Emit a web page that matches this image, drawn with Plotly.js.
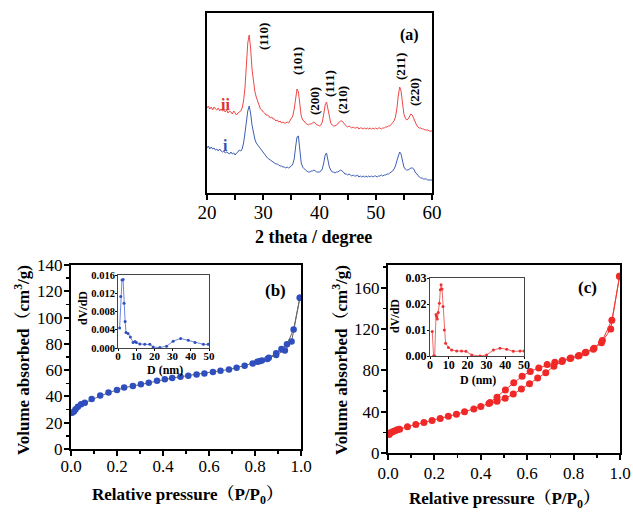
<!DOCTYPE html>
<html><head><meta charset="utf-8">
<script src="https://cdn.plot.ly/plotly-3.0.1.min.js"></script>
<style>body{margin:0;padding:0;background:#fff}#chart{width:633px;height:512px}</style>
</head><body><div id="chart"></div>
<script>
// ---------- (a) XRD ----------
const twoTheta = [
20,20.25,20.5,20.75,21,21.25,21.5,21.75,22,22.25,22.5,22.75,23,23.25,23.5,23.75,
24,24.25,24.5,24.75,25,25.25,25.5,25.75,26,26.25,26.5,26.75,27,27.25,27.5,27.75,
28,28.25,28.5,28.75,29,29.25,29.5,29.75,30,30.25,30.5,30.75,31,31.25,31.5,31.75,
32,32.25,32.5,32.75,33,33.25,33.5,33.75,34,34.25,34.5,34.75,35,35.25,35.5,35.75,
36,36.25,36.5,36.75,37,37.25,37.5,37.75,38,38.25,38.5,38.75,39,39.25,39.5,39.75,
40,40.25,40.5,40.75,41,41.25,41.5,41.75,42,42.25,42.5,42.75,43,43.25,43.5,43.75,
44,44.25,44.5,44.75,45,45.25,45.5,45.75,46,46.25,46.5,46.75,47,47.25,47.5,47.75,
48,48.25,48.5,48.75,49,49.25,49.5,49.75,50,50.25,50.5,50.75,51,51.25,51.5,51.75,
52,52.25,52.5,52.75,53,53.25,53.5,53.75,54,54.25,54.5,54.75,55,55.25,55.5,55.75,
56,56.25,56.5,56.75,57,57.25,57.5,57.75,58,58.25,58.5,58.75,59,59.25,59.5,59.75,60];
const intensityII = [
85,87,84,86,83,86,84,83,85,82,84,82,83,81,83,80,
82,81,79,82,80,78,80,81,82,85,92,105,128,150,158,145,
124,110,102,96,91,88,84,83,81,80,78,78,77,75,76,74,
74,72,73,71,72,70,71,70,70,71,70,72,74,77,84,96,
104,101,86,77,73,72,70,69,68,69,69,70,71,70,68,68,
67,68,71,79,88,91,84,74,70,68,67,67,68,69,71,72,
72,70,68,67,66,67,66,65,66,65,65,66,64,65,65,64,
65,64,65,64,65,64,65,64,65,64,65,65,64,65,65,66,
66,67,67,69,70,72,76,84,97,106,102,88,79,75,73,74,
76,79,78,74,70,68,66,65,65,64,64,63,63,63,62,62,62];
const intensityI = [
45,47,44,46,44,45,43,44,42,44,42,41,42,40,41,40,
39,41,39,40,38,40,41,43,42,44,50,60,72,82,87,80,
68,60,54,50,48,46,44,42,40,38,37,35,34,33,32,31,
30,29,29,28,27,27,26,26,25,26,25,26,27,29,34,46,
56,57,40,30,26,24,23,22,21,21,22,22,23,22,21,21,
21,22,24,30,38,40,33,26,23,21,21,20,21,21,22,23,
22,21,19,19,18,19,18,17,18,17,17,18,16,17,16,17,
16,17,16,17,16,17,16,17,17,16,17,17,18,17,18,18,
19,19,20,21,22,24,27,32,38,41,39,31,26,24,23,23,
24,25,25,24,21,19,17,16,15,15,14,14,14,13,13,13,13];
const millerLabels = ["(110)","(101)","(200)","(111)","(210)","(211)","(220)"];

// ---------- (b) N2 isotherm ----------
const pAdsB = [0.005,0.013,0.02,0.03,0.044,0.06,0.09,0.127,0.163,0.2,0.231,0.269,0.304,0.338,0.374,0.408,0.44,0.476,0.51,0.546,0.58,0.617,0.65,0.687,0.72,0.755,0.79,0.82,0.854,0.892,0.93,0.959,0.995];
const vAdsB = [27.5,28.5,30.2,32.2,34,35.2,38,40.8,42.9,44.9,46.7,47.9,49.2,50.5,52,53,54,55,55.8,56.7,57.5,58.5,59.5,60.5,61.9,63.4,65,66.7,68.5,71.5,75,81.7,115];
const pDesB = [0.995,0.968,0.939,0.915,0.892,0.86,0.83,0.81];
const vDesB = [115,91,79.7,76,72.8,69.5,67.3,66.3];
const poreDB = [0.9,1.5,2.2,2.8,3.3,3.9,4.4,5.5,6.8,8.3,9.3,10.1,12,14.7,17.5,19.3,23,26.7,30.3,34.4,38.6,42.3,46.9,49.6];
const dvdDB = [0.0044,0.0113,0.0149,0.0150,0.0098,0.0058,0.0034,0.0032,0.0024,0.0012,0.0014,0.0012,0.0009,0.0008,0.0008,0.0002,0.0001,0.0004,0.0015,0.0021,0.0017,0.0012,0.0008,0.0008];

// ---------- (c) N2 isotherm ----------
const pAdsC = [0.005,0.01,0.02,0.03,0.04,0.05,0.084,0.12,0.155,0.19,0.225,0.26,0.295,0.33,0.37,0.40,0.435,0.47,0.505,0.54,0.575,0.61,0.645,0.68,0.715,0.75,0.785,0.82,0.85,0.885,0.92,0.96,0.998];
const vAdsC = [18,19.5,20.5,21.5,22.5,23,25.5,27.5,29.5,31.5,33.5,35.5,37.5,40,42.5,45,48,50,53,57,62,67,72.7,77.6,84,88.5,91.5,94,97,100.5,106.7,120,171];
const pDesC = [0.998,0.965,0.924,0.888,0.853,0.824,0.788,0.752,0.719,0.686,0.65,0.613,0.578,0.542,0.506,0.47,0.44];
const vDesC = [171,128.6,109,101.5,97.6,94.4,92,89.5,87.9,85.6,82.4,79,74.3,67.9,61,54,49];
const poreDC = [1.2,1.9,2.5,3.2,3.5,3.9,4.4,5,5.5,5.9,6.4,6.9,7.6,8.3,9.8,11.5,14.2,16.8,19.1,22.2,26.6,30.1,33.7,37.2,40.8,44.3,47.9,50];
const dvdDC = [0.0094,0.0,0.0,0.0160,0.0152,0.0142,0.0167,0.0203,0.0255,0.0274,0.0258,0.0190,0.0100,0.0049,0.0033,0.0023,0.0019,0.0019,0.0018,0.0004,0.0,0.0004,0.0023,0.0030,0.0026,0.0018,0.0019,0.0019];

const serif = "'Liberation Serif','Times New Roman','Noto Serif CJK SC','Noto Sans CJK SC',serif";
const black = '#000';

const traces = [
  {x: twoTheta, y: intensityI, xaxis:'x', yaxis:'y', mode:'lines', line:{color:'#3f5fb5', width:1}},
  {x: twoTheta, y: intensityII, xaxis:'x', yaxis:'y', mode:'lines', line:{color:'#f04848', width:1}},
  {x: pAdsB, y: vAdsB, xaxis:'x2', yaxis:'y2', mode:'lines+markers', line:{color:'#666', width:1}, marker:{color:'#2f4fbf', size:6.5}},
  {x: pDesB, y: vDesB, xaxis:'x2', yaxis:'y2', mode:'lines+markers', line:{color:'#666', width:1}, marker:{color:'#2f4fbf', size:6.5}},
  {x: pAdsC, y: vAdsC, xaxis:'x3', yaxis:'y3', mode:'lines+markers', line:{color:'#f03a3a', width:1}, marker:{color:'#f02828', size:7}},
  {x: pDesC, y: vDesC, xaxis:'x3', yaxis:'y3', mode:'lines+markers', line:{color:'#f03a3a', width:1}, marker:{color:'#f02828', size:7}},
  {x: poreDB, y: dvdDB, xaxis:'x4', yaxis:'y4', mode:'lines+markers', line:{color:'#6d87e0', width:1}, marker:{color:'#3050c0', size:3}},
  {x: poreDC, y: dvdDC, xaxis:'x5', yaxis:'y5', mode:'lines+markers', line:{color:'#f06a6a', width:1}, marker:{color:'#f03030', size:3}}
];

function ax(o){
  return Object.assign({showline:true, linecolor:black, mirror:true, showgrid:false, zeroline:false,
    ticks:'outside', tickcolor:black, automargin:false, fixedrange:true,
    tickfont:{family:serif, size:17, color:black}}, o);
}
const px = v => v/633, py = v => 1 - v/512;
const insetFont = {family:serif, size:11, color:black, weight:'bold'};

const layout = {
  width:633, height:512, margin:{l:0,r:0,t:0,b:0},
  paper_bgcolor:'#fff', plot_bgcolor:'rgba(0,0,0,0)', showlegend:false,
  xaxis: ax({domain:[px(207),px(432)], range:[20,60], tick0:20, dtick:10, linewidth:2, tickwidth:2, ticklen:5,
             tickfont:{family:serif, size:19, color:black}, anchor:'y', ticklabelstandoff:-4,
             minor:{dtick:5, ticks:'outside', ticklen:5, tickwidth:2, tickcolor:black}}),
  yaxis: ax({domain:[py(193),py(13)], range:[0,180], ticks:'', showticklabels:false, linewidth:2, anchor:'x'}),
  xaxis2: ax({domain:[px(71),px(301)], range:[0,1], dtick:0.2, tickformat:'.1f', linewidth:2, tickwidth:2, ticklen:5, anchor:'y2', ticklabelstandoff:-4,
             minor:{dtick:0.1, ticks:'outside', ticklen:3, tickwidth:1.5, tickcolor:black}}),
  yaxis2: ax({domain:[py(449),py(265)], range:[0,140], dtick:20, linewidth:2, tickwidth:2, ticklen:5, anchor:'x2', ticklabelstandoff:-2,
             minor:{dtick:10, ticks:'outside', ticklen:3, tickwidth:1.5, tickcolor:black}}),
  xaxis3: ax({domain:[px(388),px(620)], range:[0,1], dtick:0.2, tickformat:'.1f', linewidth:2, tickwidth:2, ticklen:5, anchor:'y3', ticklabelstandoff:-1,
             minor:{dtick:0.1, ticks:'outside', ticklen:3, tickwidth:1.5, tickcolor:black}}),
  yaxis3: ax({domain:[py(453),py(265)], range:[0,182], dtick:40, linewidth:2, tickwidth:2, ticklen:5, anchor:'x3', ticklabelstandoff:-2,
             minor:{dtick:20, ticks:'outside', ticklen:3, tickwidth:1.5, tickcolor:black}}),
  xaxis4: ax({domain:[px(118),px(209)], range:[0,50], dtick:10, linewidth:1, linecolor:'#444', tickwidth:1, ticklen:2, anchor:'y4',
             tickfont:insetFont, ticklabelstandoff:-4}),
  yaxis4: ax({domain:[py(348),py(275)], range:[0,0.016], dtick:0.004, tickformat:'.3f', linewidth:1, linecolor:'#444', tickwidth:1, ticklen:2, anchor:'x4',
             tickfont:{family:serif, size:10.5, color:black, weight:'bold'}, ticklabelstandoff:-2}),
  xaxis5: ax({domain:[px(430),px(524)], range:[0,50], dtick:10, linewidth:1, linecolor:'#444', tickwidth:1, ticklen:2, anchor:'y5',
             tickfont:{family:serif, size:12, color:black, weight:'bold'}, ticklabelstandoff:-4}),
  yaxis5: ax({domain:[py(356),py(278)], range:[0,0.03], dtick:0.01, tickformat:'.2f', linewidth:1, linecolor:'#444', tickwidth:1, ticklen:2, anchor:'x5',
             tickfont:{family:serif, size:12, color:black, weight:'bold'}, ticklabelstandoff:-2}),
  annotations: []
};

const A = layout.annotations;
function txt(text, x, y, size, opts){
  A.push(Object.assign({text:text, x:x, y:y, xref:'paper', yref:'paper', showarrow:false,
    xanchor:'center', yanchor:'middle', font:{family:serif, size:size, color:black}}, opts||{}));
}
// Miller index labels (a)
const millerX = [263,297,314,329,342,400,414];
const millerY = [37,61,101,84,100,67,92];
millerLabels.forEach((m,i)=> txt('<b>'+m+'</b>', px(millerX[i]), py(millerY[i]), 13, {textangle:-90}));
txt('<b>(a)</b>', px(409), py(35), 16);
txt('<b>ii</b>', px(225), py(104), 16, {font:{family:serif, size:16, color:'#e03030'}});
txt('<b>i</b>', px(225), py(145), 16, {font:{family:serif, size:16, color:'#3050b0'}});
txt('<b>2 theta / degree</b>', px(313), py(237), 18);
// (b)
txt('<b>(b)</b>', px(275), py(290), 17);
txt('<b>Volume absorbed（cm<sup>3</sup>/g)</b>', px(22), py(360), 17, {textangle:-90});
txt('<b>Relative pressure（P/P<sub>0</sub>）</b>', px(188), py(496), 17);
txt('<b>dV/dD</b>', px(83), py(308), 12, {textangle:-90});
txt('<b>D (nm)</b>', px(165), py(370), 12);
// (c)
txt('<b>(c)</b>', px(587), py(287), 17);
txt('<b>Volume absorbed（cm<sup>3</sup>/g)</b>', px(340), py(360), 17, {textangle:-90});
txt('<b>Relative pressure（P/P<sub>0</sub>）</b>', px(505), py(500), 17);
txt('<b>dV/dD</b>', px(395), py(316), 12, {textangle:-90});
txt('<b>D (nm)</b>', px(478), py(380), 12);

Plotly.newPlot('chart', traces, layout, {staticPlot:true, displayModeBar:false});
</script></body></html>
